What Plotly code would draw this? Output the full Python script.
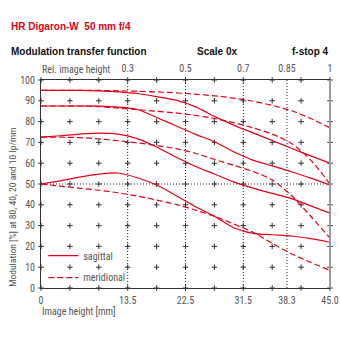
import plotly.graph_objects as go

# ---------------- data ----------------
image_height = [0, 3, 6, 9, 12, 15, 18, 21, 24, 27, 30, 33, 36, 39, 42, 45]

sag_10 = [95, 95, 95, 94.8, 94.3, 93.5, 92, 90.3, 87.2, 82.5, 78.3, 74.6, 70.9, 67.2, 63.5, 60]
mer_10 = [95, 95, 95, 95, 94.8, 94.6, 94.3, 93.8, 93.2, 92.4, 91.3, 89.8, 87.8, 85.2, 81.5, 77]
sag_20 = [87.5, 87.5, 87.5, 87.4, 87, 85.8, 82, 78, 74, 70.3, 65.5, 61.5, 58.7, 55.9, 52.8, 49.5]
mer_20 = [87.5, 87.5, 87.5, 87.2, 86.5, 85.8, 85, 84.2, 83, 81.5, 79.5, 77, 74, 69.5, 61.5, 50]
sag_40 = [72.5, 73.2, 74, 74.5, 74, 71.8, 67.8, 63, 58.5, 54.8, 51, 48, 45.5, 43, 39.5, 36]
mer_40 = [72.5, 72.5, 72.3, 71.7, 70.8, 69.8, 68.5, 67, 64.8, 61.8, 59, 56, 52, 44.5, 34.5, 24]
sag_80 = [50, 51.5, 53.3, 54.7, 55.3, 53, 49.5, 44.5, 39.2, 34.5, 29, 26.3, 25.6, 25, 23.7, 22]
mer_80 = [50, 49, 48, 47, 45.8, 44.2, 42.3, 40.2, 37.5, 34.5, 30.8, 26.8, 21.5, 16.5, 12.3, 8.5]

x_ticks = [0, 13.5, 22.5, 31.5, 38.3, 45.0]
x_tick_labels = ["0", "13.5", "22.5", "31.5", "38.3", "45.0"]
rel_ticks = [13.5, 22.5, 31.5, 38.3, 45.0]
rel_labels = ["0.3", "0.5", "0.7", "0.85", "1"]
y_ticks = [0, 10, 20, 30, 40, 50, 60, 70, 80, 90, 100]
cross_x = [0, 4.5, 9, 13.5, 18, 22.5, 27, 31.5, 36, 40.5, 45]
cross_y = [0, 10, 20, 30, 40, 50, 60, 70, 80, 90, 100]
dotted_x = [13.5, 22.5, 31.5, 38.3]
dotted_y = [50]

RED = "#e2001a"
GRAY = "#555555"
FONT = "Liberation Sans Narrow, Roboto Condensed, Liberation Sans, sans-serif"
BOLD = "Liberation Sans, Arial, sans-serif"

fig = go.Figure()

# grid crosses
gx = [x for x in cross_x for _ in cross_y]
gy = [y for _ in cross_x for y in cross_y]
fig.add_trace(go.Scatter(x=gx, y=gy, mode="markers", cliponaxis=False, showlegend=False,
                         hoverinfo="skip",
                         marker=dict(symbol="cross-thin", size=4, line=dict(width=1, color="#333"))))

# dotted reference lines
vx, vy = [], []
for x in dotted_x:
    vx += [x, x, None]
    vy += [0, 100, None]
for y in dotted_y:
    vx += [0, 45, None]
    vy += [y, y, None]
fig.add_trace(go.Scatter(x=vx, y=vy, mode="lines", showlegend=False, hoverinfo="skip",
                         line=dict(color="#222", width=1, dash="1px,2px")))

sag = [sag_10, sag_20, sag_40, sag_80]
mer = [mer_10, mer_20, mer_40, mer_80]
for s in sag:
    fig.add_trace(go.Scatter(x=image_height, y=s, mode="lines", showlegend=False,
                             line=dict(color=RED, width=1.2, shape="spline", smoothing=0.8)))
for m in mer:
    fig.add_trace(go.Scatter(x=image_height, y=m, mode="lines", showlegend=False,
                             line=dict(color=RED, width=1.2, shape="spline", smoothing=0.8,
                                       dash="6px,3px")))

# legend entries
fig.add_trace(go.Scatter(x=[None], y=[None], mode="lines", name="sagittal", legend="legend",
                         line=dict(color=RED, width=1.2)))
fig.add_trace(go.Scatter(x=[None], y=[None], mode="lines", name="meridional", legend="legend2",
                         line=dict(color=RED, width=1.2, dash="6px,3px")))

# top axis helper trace
fig.add_trace(go.Scatter(x=[0, 45], y=[0, 0], xaxis="x2", mode="lines", showlegend=False,
                         hoverinfo="skip", line=dict(width=0, color="rgba(0,0,0,0)")))

legend_style = dict(xanchor="left", yanchor="top", bgcolor="rgba(0,0,0,0)",
                    font=dict(size=10, color=GRAY))

fig.update_layout(
    width=340, height=340,
    margin=dict(l=41, r=10, t=80, b=52, autoexpand=False),
    paper_bgcolor="white", plot_bgcolor="white",
    font=dict(family=FONT, size=10, color=GRAY),
    xaxis=dict(range=[0, 45], tickvals=x_ticks, ticktext=x_tick_labels, automargin=False,
               showgrid=False, zeroline=False, showline=True, linecolor="#333", linewidth=1,
               mirror=True, ticks="outside", ticklen=3, tickcolor="rgba(0,0,0,0)",
               tickfont=dict(size=10, color=GRAY)),
    xaxis2=dict(range=[0, 45], overlaying="x", side="top", tickvals=rel_ticks, automargin=False,
                ticktext=rel_labels, showgrid=False, zeroline=False, showline=False,
                ticks="outside", ticklen=3, tickcolor="rgba(0,0,0,0)",
                tickfont=dict(size=10, color=GRAY)),
    yaxis=dict(range=[0, 100], tickvals=y_ticks, showgrid=False, zeroline=False, automargin=False,
               showline=True, linecolor="#333", linewidth=1,
               ticks="outside", ticklen=3, tickcolor="rgba(0,0,0,0)",
               tickfont=dict(size=10, color=GRAY)),
    legend=dict(x=0.008, y=0.225, **legend_style),
    legend2=dict(x=0.008, y=0.12, **legend_style),
    showlegend=True,
    shapes=[dict(type="line", xref="paper", yref="paper", x0=1, x1=1, y0=0, y1=1,
                 line=dict(color="#9a9a9a", width=2))],
)

ann = [
    dict(text="<b>HR Digaron-W  50 mm f/4</b>", x=-0.11, y=1.256, xanchor="left", yanchor="middle",
         font=dict(family=BOLD, size=10, color=RED)),
    dict(text="<b>Modulation transfer function</b>", x=-0.11, y=1.139, xanchor="left",
         yanchor="middle", font=dict(family=BOLD, size=10, color="#111")),
    dict(text="<b>Scale 0x</b>", x=0.533, y=1.139, xanchor="left", yanchor="middle",
         font=dict(family=BOLD, size=10, color="#111")),
    dict(text="<b>f-stop 4</b>", x=1.0035, y=1.139, xanchor="right", yanchor="middle",
         font=dict(family=BOLD, size=10, color="#111")),
    dict(text="Rel. image height", x=-0.0035, y=1.0514, xanchor="left", yanchor="middle",
         font=dict(size=10, color=GRAY)),
    dict(text="Image height [mm]", x=-0.0035, y=-0.114, xanchor="left", yanchor="middle",
         font=dict(size=10, color=GRAY)),
    dict(text="Modulation [%] at 80, 40, 20 and 10 lp/mm", x=-0.097, y=0.39,
         xanchor="center", yanchor="middle", textangle=-90, font=dict(size=9.6, color=GRAY)),
]
for a in ann:
    a.update(xref="paper", yref="paper", showarrow=False)
fig.update_layout(annotations=ann)

fig.write_html("out.html")
